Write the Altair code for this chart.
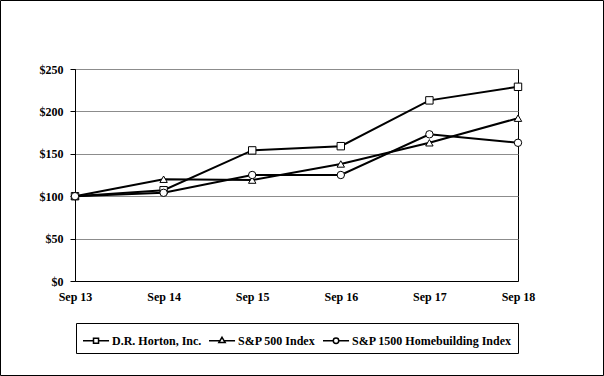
import altair as alt
import pandas as pd

periods = ["Sep 13", "Sep 14", "Sep 15", "Sep 16", "Sep 17", "Sep 18"]
series_names = ["D.R. Horton, Inc.", "S&P 500 Index", "S&P 1500 Homebuilding Index"]
horton = [100, 107, 154, 159, 213, 229]
sp500 = [100, 120, 119, 138, 163, 192]
homebuilding = [100, 104, 125, 125, 173, 163]

rows = []
for name, vals in zip(series_names, [horton, sp500, homebuilding]):
    for p, v in zip(periods, vals):
        rows.append({"period": p, "series": name, "value": v})
df = pd.DataFrame(rows)

FONT = "Liberation Serif"

x_enc = alt.X("period:N", sort=periods, scale=alt.Scale(type="point", padding=0),
              axis=alt.Axis(title=None, labelAngle=0, labelFont=FONT, labelFontWeight="bold",
                            labelFontSize=12, labelColor="black", domainColor="black",
                            ticks=False, labelPadding=10, grid=False))
y_enc = alt.Y("value:Q", scale=alt.Scale(domain=[0, 250], nice=False),
              axis=alt.Axis(title=None, values=[0, 50, 100, 150, 200, 250], format="$.0f",
                            labelFont=FONT, labelFontWeight="bold", labelFontSize=12,
                            labelColor="black", domainColor="black", tickColor="black",
                            tickSize=5, labelPadding=7, grid=True, gridColor="#8c8c8c",
                            gridWidth=1))

base = alt.Chart(df)

lines = base.mark_line(color="black", strokeWidth=2).encode(
    x=x_enc, y=y_enc, detail="series:N")

points = base.mark_point(filled=True, fill="white", stroke="black", strokeWidth=1,
                         size=55, opacity=1).encode(
    x=x_enc, y=y_enc,
    shape=alt.Shape("series:N", sort=series_names,
                    scale=alt.Scale(domain=series_names,
                                    range=["square", "triangle-up", "circle"]),
                    legend=None))

# legend glyphs: line stub + marker (unit = half of sqrt(symbolSize))
sq = "M-1,0H0M0.48,0H1.48M0,-0.24H0.48V0.24H0Z"
tri = "M-1,0H0.04M0.44,0H1.48M0.24,-0.33L0.54,0.17L-0.06,0.17Z"
cir = "M-1,0H-0.02M0.5,0H1.48M0.5,0A0.26,0.26 0 1,1 -0.02,0A0.26,0.26 0 1,1 0.5,0Z"

legend_layer = base.transform_filter("false").mark_point(
    filled=False, color="black", strokeWidth=1.5, opacity=1).encode(
    x=x_enc, y=y_enc,
    shape=alt.Shape("series:N", sort=series_names,
                    scale=alt.Scale(domain=series_names, range=[sq, tri, cir]),
                    legend=alt.Legend(title=None, orient="none", legendX=1, legendY=254,
                                      direction="horizontal", symbolSize=441,
                                      symbolStrokeColor="black",
                                      symbolStrokeWidth=1.5, symbolOpacity=1,
                                      labelFont=FONT, labelFontWeight="bold",
                                      labelFontSize=12, labelColor="black",
                                      labelOffset=7, columnPadding=4, padding=6,
                                      strokeColor="black", fillColor="white",
                                      labelLimit=300)))

frame = alt.Chart(pd.DataFrame({"a": [0]})).mark_rect(
    fill=None, stroke="black", strokeWidth=1).encode(
    x=alt.value(-74.5), x2=alt.value(528.5), y=alt.value(-68.5), y2=alt.value(306.5))

chart = alt.layer(lines, points, legend_layer, frame).resolve_scale(
    shape="independent").properties(
    width=443, height=212,
    autosize=alt.AutoSizeParams(type="none"),
    padding={"left": 75, "top": 69, "right": 86, "bottom": 95},
    background="white"
).configure_view(stroke="black", strokeWidth=1)

chart.save("out.html", embed_options={"renderer": "svg", "actions": False})
